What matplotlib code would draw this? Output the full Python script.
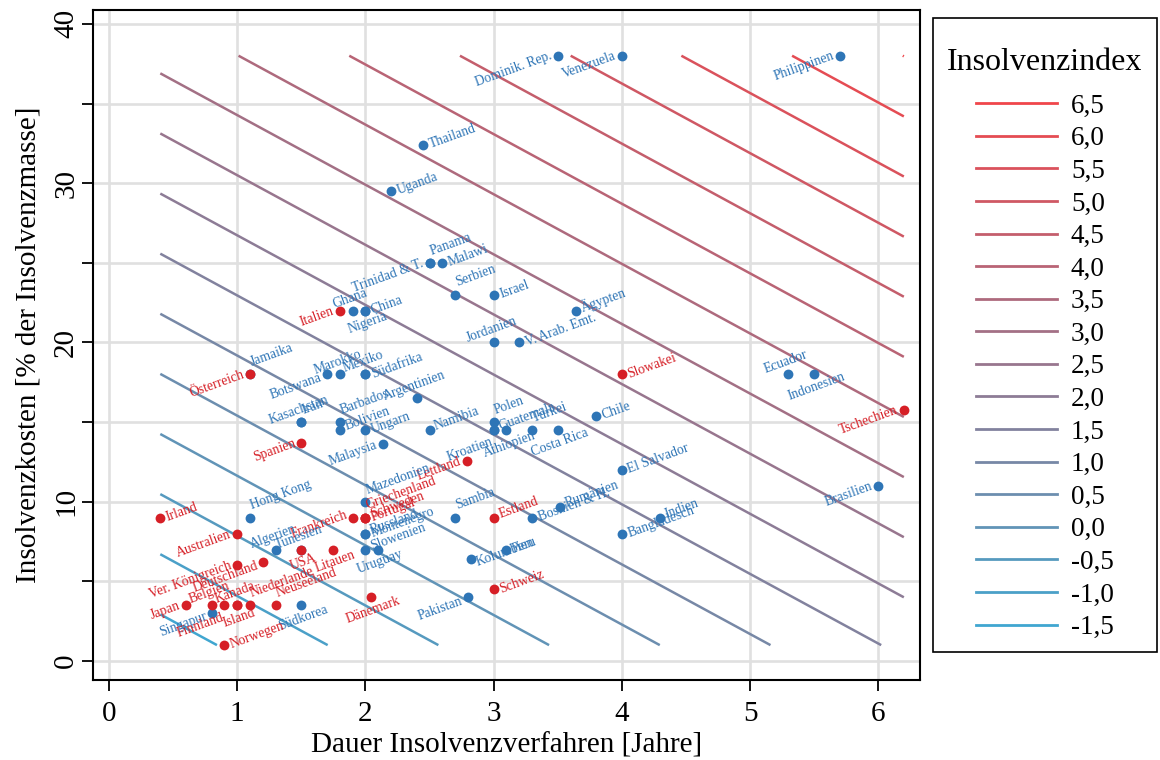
import numpy as np
import matplotlib.pyplot as plt
from matplotlib.lines import Line2D
from matplotlib.patches import Rectangle

plt.rcParams['font.family'] = ['Liberation Serif', 'DejaVu Serif']

# Dauer [Jahre], Kosten [% der Insolvenzmasse], Gruppe (r/b)
laender = [
    "Dominik. Rep.", "Venezuela", "Philippinen", "Thailand", "Uganda",
    "Trinidad & T.", "Panama", "Malawi", "Serbien", "Israel",
    "Italien", "Ghana", "China", "Nigeria", "Ägypten",
    "Jordanien", "V. Arab. Emt.", "Österreich", "Jamaika", "Botswana",
    "Marokko", "Mexiko", "Südafrika", "Argentinien", "Kasachstan",
    "Iran", "Barbados", "Bolivien", "Ungarn", "Malaysia",
    "Namibia", "Spanien", "Polen", "Guatemala", "Kroatien",
    "Äthiopien", "Türkei", "Costa Rica", "Chile", "Slowakei",
    "Ecuador", "Indonesien", "Tschechien", "El Salvador", "Brasilien",
    "Lettland", "Mazedonien", "Griechenland", "Schweden", "Portugal",
    "Frankreich", "Russland", "Montenegro", "Slowenien", "Uruguay",
    "Hong Kong", "Irland", "Australien", "Algerien", "Tunesien",
    "USA", "Litauen", "Ver. Königreich", "Deutschland", "Japan",
    "Singapur", "Finnland", "Belgien", "Kanada", "Island",
    "Niederlande", "Neuseeland", "Südkorea", "Norwegen", "Dänemark",
    "Pakistan", "Schweiz", "Sambia", "Estland", "Bosnien & H.",
    "Rumänien", "Indien", "Bangladesch", "Peru", "Kolumbien",
]
dauer = [
    3.5, 4.0, 5.7, 2.45, 2.2,
    2.5, 2.5, 2.6, 2.7, 3.0,
    1.8, 1.9, 2.0, 2.0, 3.64,
    3.0, 3.2, 1.1, 1.1, 1.7,
    1.8, 2.0, 2.0, 2.4, 1.5,
    1.5, 1.8, 1.8, 2.0, 2.14,
    2.5, 1.5, 3.0, 3.0, 3.0,
    3.1, 3.3, 3.5, 3.8, 4.0,
    5.3, 5.5, 6.2, 4.0, 6.0,
    2.79, 2.0, 2.0, 2.0, 2.0,
    1.9, 2.0, 2.0, 2.0, 2.1,
    1.1, 0.4, 1.0, 1.3, 1.5,
    1.5, 1.75, 1.0, 1.2, 0.6,
    0.8, 0.9, 0.8, 1.0, 1.0,
    1.1, 1.3, 1.5, 0.9, 2.04,
    2.8, 3.0, 2.7, 3.0, 3.3,
    3.52, 4.3, 4.0, 3.1, 2.82,
]
kosten = [
    38.0, 38.0, 38.0, 32.4, 29.5,
    25.0, 25.0, 25.0, 23.0, 23.0,
    22.0, 22.0, 22.0, 22.0, 22.0,
    20.0, 20.0, 18.0, 18.0, 18.0,
    18.0, 18.0, 18.0, 16.5, 15.0,
    15.0, 15.0, 14.5, 14.5, 13.6,
    14.5, 13.7, 15.0, 14.5, 14.5,
    14.5, 14.5, 14.5, 15.4, 18.0,
    18.0, 18.0, 15.75, 12.0, 11.0,
    12.55, 10.0, 9.0, 9.0, 9.0,
    9.0, 8.0, 8.0, 7.0, 7.0,
    9.0, 9.0, 8.0, 7.0, 7.0,
    7.0, 7.0, 6.0, 6.2, 3.5,
    3.0, 3.5, 3.5, 3.5, 3.5,
    3.5, 3.5, 3.5, 1.0, 4.0,
    4.0, 4.5, 9.0, 9.0, 9.0,
    9.7, 9.0, 8.0, 7.0, 6.4,
]
gruppe = [
    "b", "b", "b", "b", "b",
    "b", "b", "b", "b", "b",
    "r", "b", "b", "b", "b",
    "b", "b", "r", "b", "b",
    "b", "b", "b", "b", "b",
    "b", "b", "b", "b", "b",
    "b", "r", "b", "b", "b",
    "b", "b", "b", "b", "r",
    "b", "b", "r", "b", "b",
    "r", "b", "r", "r", "r",
    "r", "b", "b", "b", "b",
    "b", "r", "r", "b", "b",
    "r", "r", "r", "r", "r",
    "b", "r", "r", "r", "r",
    "r", "r", "b", "r", "r",
    "b", "r", "b", "r", "b",
    "b", "b", "b", "b", "b",
]
# label position as clock direction around the marker
lage = [
    9, 9, 9, 3, 3,
    9, 1, 3, 1, 3,
    9, 12, 3, 6, 2,
    12, 3, 9, 1, 8,
    12, 12, 3, 12, 12,
    1, 1, 2, 3, 9,
    2, 9, 1, 2, 7,
    6, 1, 6, 3, 3,
    12, 6, 9, 3, 9,
    9, 1, 1, 2, 3,
    10, 2, 3, 2, 6,
    1, 3, 9, 12, 12,
    6, 6, 9, 8, 9,
    8, 7, 12, 12, 6,
    1, 1, 6, 3, 6,
    8, 3, 1, 2, 3,
    2, 2, 3, 3, 4,
]

# Insolvenzindex = IDX_A * Dauer + IDX_B * Kosten + IDX_C
IDX_A = 0.579
IDX_B = 0.1325
IDX_C = -2.12
stufen = [-1.5, -1.0, -0.5, 0.0, 0.5, 1.0, 1.5, 2.0, 2.5,
          3.0, 3.5, 4.0, 4.5, 5.0, 5.5, 6.0, 6.5]

BLAU = "#2e75b6"
ROT = "#d61f26"
GRID = "#e0e0e0"

# contour colours run linearly from light blue to red
c_lo = np.array([64, 166, 208]) / 255
c_hi = np.array([240, 70, 75]) / 255
t = (np.array(stufen) - stufen[0]) / (stufen[-1] - stufen[0])
farben = [tuple(c_lo + (c_hi - c_lo) * ti) for ti in t]

fig = plt.figure(figsize=(11.6, 7.6), dpi=100)
ax = fig.add_axes([93 / 1160, 80 / 760, 827 / 1160, 670 / 760])

gx = np.linspace(min(dauer), max(dauer), 300)
gy = np.linspace(min(kosten), max(kosten), 300)
GX, GY = np.meshgrid(gx, gy)
GZ = IDX_A * GX + IDX_B * GY + IDX_C
ax.contour(GX, GY, GZ, levels=stufen, colors=farben, linewidths=1.8, zorder=2)

x = np.array(dauer)
y = np.array(kosten)
g = np.array(gruppe)
ax.scatter(x[g == "b"], y[g == "b"], s=50, color=BLAU, lw=0, zorder=3)
ax.scatter(x[g == "r"], y[g == "r"], s=50, color=ROT, lw=0, zorder=4)

gap = 4.5
for name, xi, yi, gi, pos in zip(laender, dauer, kosten, gruppe, lage):
    ang = np.deg2rad(90 - 30 * pos)
    dx, dy = gap * np.cos(ang), gap * np.sin(ang)
    if pos in (12, 6):
        ha = "center"
    elif pos in (1, 2, 3, 4, 5):
        ha = "left"
    else:
        ha = "right"
    if pos in (11, 12, 1):
        va = "bottom"
    elif pos in (5, 6, 7):
        va = "top"
    else:
        va = "center"
    ax.annotate(name, (xi, yi), xytext=(dx, dy), textcoords="offset points",
                ha=ha, va=va, rotation=20, rotation_mode="anchor",
                fontsize=9.8, color=BLAU if gi == "b" else ROT, zorder=5)

ax.set_xlim(-0.125, 6.326)
ax.set_ylim(-1.19, 40.87)
ax.set_xticks(range(0, 7))
ax.set_yticks([0, 10, 20, 30, 40])
ax.set_yticks([5, 15, 25, 35], minor=True)
ax.xaxis.grid(True, which="major", color=GRID, lw=1.9)
ax.yaxis.grid(True, which="both", color=GRID, lw=1.9)
ax.set_axisbelow(True)

ax.tick_params(which="both", direction="out", length=8, width=1.3,
               labelsize=21, color="black")
ax.tick_params(axis="x", pad=7)
ax.tick_params(axis="y", pad=2)
for lbl in ax.get_yticklabels():
    lbl.set_rotation(90)
    lbl.set_va("center")
for sp in ax.spines.values():
    sp.set_linewidth(1.5)
    sp.set_color("black")

ax.set_xlabel("Dauer Insolvenzverfahren [Jahre]", fontsize=21, labelpad=4)
ax.set_ylabel("Insolvenzkosten [% der Insolvenzmasse]", fontsize=21, labelpad=8)

# legend content without its own frame; the box is drawn separately
handles = [Line2D([], [], color=farben[i], lw=2) for i in range(len(stufen) - 1, -1, -1)]
labels = [f"{stufen[i]:.1f}".replace(".", ",") for i in range(len(stufen) - 1, -1, -1)]
leg = fig.legend(handles, labels, title="Insolvenzindex", loc="upper center",
                 bbox_to_anchor=(1045 / 1160, 1 - 48 / 760), bbox_transform=fig.transFigure,
                 fontsize=19.5, title_fontsize=23, frameon=False, borderaxespad=0,
                 handlelength=3.0, handletextpad=0.5, labelspacing=0.28,
                 borderpad=0)
if hasattr(leg, "_legend_box"):
    leg._legend_box.sep = 12
fig.add_artist(Rectangle((933 / 1160, 108 / 760), 224 / 1160, 634 / 760,
                         transform=fig.transFigure, fill=False,
                         edgecolor="black", lw=1.2))

fig.savefig("out.png", dpi=100)
